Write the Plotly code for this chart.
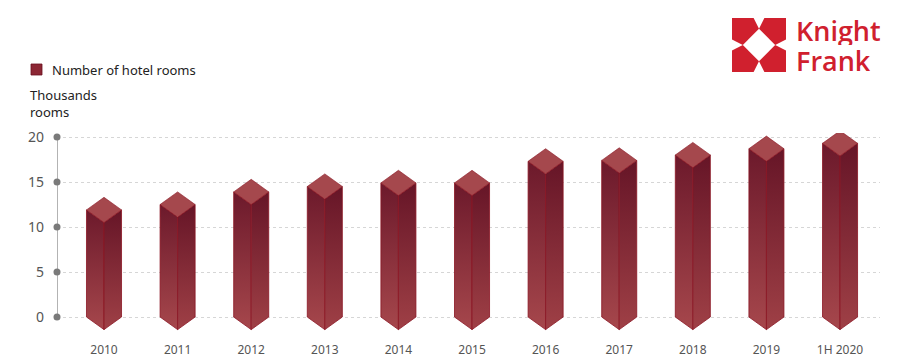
import plotly.graph_objects as go

categories = ["2010", "2011", "2012", "2013", "2014", "2015", "2016", "2017", "2018", "2019", "1H 2020"]
hotel_rooms = [11.9, 12.5, 13.9, 14.5, 14.9, 14.9, 17.3, 17.4, 18.0, 18.7, 19.3]
y_ticks = [0, 5, 10, 15, 20]

W, H = 900, 364
ML, MR, MT, MB = 57, 20, 133, 31
X_MIN, X_MAX = -0.6386, 10.543
Y_MIN, Y_MAX = -1.778, 20.444

BAR_HALF = 0.238   # half bar width in category units
CAP = 1.4          # height of the diamond cap / point in value units

EDGE = "#8a1422"
FACE_L = [[0, "#a6474c"], [1, "#6c192b"]]
FACE_R = [[0, "#9f4046"], [1, "#661527"]]
TOP = "#a5484d"
LOGO_RED = "#d0202e"


def pxx(xp):
    return (xp - ML) / (W - ML - MR)


def pxy(yp):
    return (H - MB - yp) / (H - MT - MB)


fig = go.Figure()

for i, v in enumerate(hotel_rooms):
    w, d = BAR_HALF, CAP
    fig.add_trace(go.Scatter(
        x=[i - w, i, i, i - w, i - w], y=[v, v - d, -d, 0, v],
        fill="toself", mode="lines", line=dict(color=EDGE, width=0.8),
        fillgradient=dict(type="vertical", colorscale=FACE_L),
        hoverinfo="skip", showlegend=False))
    fig.add_trace(go.Scatter(
        x=[i, i + w, i + w, i, i], y=[v - d, v, 0, -d, v - d],
        fill="toself", mode="lines", line=dict(color=EDGE, width=0.8),
        fillgradient=dict(type="vertical", colorscale=FACE_R),
        hoverinfo="skip", showlegend=False))
    fig.add_trace(go.Scatter(
        x=[i - w, i, i + w, i, i - w], y=[v, v + d, v, v - d, v],
        fill="toself", mode="lines", line=dict(color=EDGE, width=0.6),
        fillcolor=TOP, hoverinfo="skip", showlegend=False))

# y axis line with dots
fig.add_trace(go.Scatter(
    x=[X_MIN] * len(y_ticks), y=y_ticks, mode="lines+markers",
    line=dict(color="#9a9a9a", width=1.5),
    marker=dict(size=7, color="#7a7a7a"),
    cliponaxis=False, hoverinfo="skip", showlegend=False))

shapes = []
# legend square
shapes.append(dict(type="rect", xref="paper", yref="paper",
                   x0=pxx(31), x1=pxx(42), y0=pxy(75), y1=pxy(64),
                   fillcolor="#8c2734", line=dict(color="#6b1020", width=0.8)))

# logo emblem
L0, T0, S = 732, 18, 54
tl = [(0, 0), (0.4, 0), (0.5, 0.2), (0.2, 0.5), (0, 0.4)]
allp = [
    tl,
    [(1 - a, b) for a, b in tl],
    [(a, 1 - b) for a, b in tl],
    [(1 - a, 1 - b) for a, b in tl],
]
for poly in allp:
    path = ""
    for k, (a, b) in enumerate(poly):
        path += ("M " if k == 0 else " L ") + f"{pxx(L0 + a * S):.5f} {pxy(T0 + b * S):.5f}"
    path += " Z"
    shapes.append(dict(type="path", xref="paper", yref="paper", path=path,
                       fillcolor=LOGO_RED, line=dict(width=0)))

annotations = [
    dict(text="Number of hotel rooms", x=pxx(50), y=pxy(69.5), xref="paper", yref="paper",
         xanchor="left", yanchor="middle", showarrow=False,
         font=dict(family="Noto Sans", size=13, color="#222")),
    dict(text="Thousands<br>rooms", x=pxx(28), y=pxy(103), xref="paper", yref="paper",
         xanchor="left", yanchor="middle", showarrow=False, align="left",
         font=dict(family="Noto Sans", size=13, color="#222")),
    dict(text="Knight", x=pxx(794), y=pxy(30.5), xref="paper", yref="paper",
         xanchor="left", yanchor="middle", showarrow=False, height=29,
         font=dict(family="Open Sans", size=27, color=LOGO_RED, weight=600)),
    dict(text="Frank", x=pxx(794), y=pxy(60.5), xref="paper", yref="paper",
         xanchor="left", yanchor="middle", showarrow=False, height=29,
         font=dict(family="Open Sans", size=27, color=LOGO_RED, weight=600)),
]

fig.update_layout(
    width=W, height=H,
    margin=dict(l=ML, r=MR, t=MT, b=MB, autoexpand=False),
    paper_bgcolor="white", plot_bgcolor="white",
    showlegend=False,
    shapes=shapes, annotations=annotations,
    xaxis=dict(range=[X_MIN, X_MAX], tickvals=list(range(len(categories))),
               ticktext=categories, showgrid=False, zeroline=False, showline=False,
               ticks="", ticklabelstandoff=8, automargin=False,
               tickfont=dict(family="Noto Sans", size=12, color="#555")),
    yaxis=dict(range=[Y_MIN, Y_MAX], tickvals=y_ticks, showgrid=True,
               gridcolor="#d6d6d6", griddash="dot", gridwidth=1, automargin=False,
               zeroline=False, showline=False, ticks="", ticklabelstandoff=12,
               tickfont=dict(family="Noto Sans", size=14, color="#555")),
)

fig.write_html("out.html", config={"displayModeBar": False},
               post_script="document.body.style.margin='0';")
